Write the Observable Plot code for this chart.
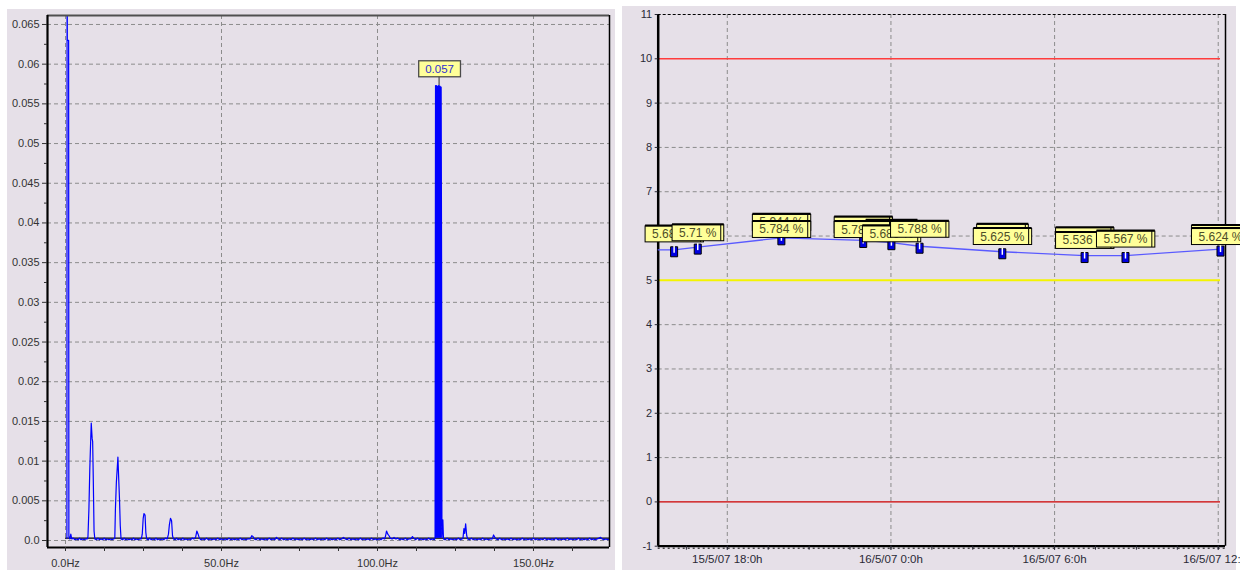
<!DOCTYPE html>
<html><head><meta charset="utf-8">
<script src="https://cdn.jsdelivr.net/npm/d3@7"></script>
<script src="https://cdn.jsdelivr.net/npm/@observablehq/plot@0.6"></script>
<style>
html,body{margin:0;padding:0;background:#fff;width:1240px;height:570px;overflow:hidden;font-family:"Liberation Sans",Arial,sans-serif;}
.panel{position:absolute;background:#e6e0e8;}
#leftBg{left:7px;top:9px;width:608px;height:561px;}
#rightBg{left:622px;top:6px;width:614px;height:564px;}
#left{position:absolute;left:7px;top:9px;}
#right{position:absolute;left:622px;top:6px;}
</style></head><body>
<div class="panel" id="leftBg"></div><div class="panel" id="rightBg"></div>
<div id="left"></div><div id="right"></div>
<script>
// ---------- Left panel: amplitude spectrum ----------
const specXDomain = [-5.77, 174.36];
const specYDomain = [-0.00088, 0.06613];
const specXTicks = [0, 50, 100, 150];
const specXMinorTicks = [12.5, 25, 37.5, 62.5, 75, 87.5, 112.5, 125, 137.5, 162.5];
const specYTicks = [0, 0.005, 0.01, 0.015, 0.02, 0.025, 0.03, 0.035, 0.04, 0.045, 0.05, 0.055, 0.06, 0.065];
const specYMinorTicks = [0.0025, 0.0075, 0.0125, 0.0175, 0.0225, 0.0275, 0.0325, 0.0375, 0.0425, 0.0475, 0.0525, 0.0575, 0.0625];
const specBaseline = 0.0003;
const specPeak = {f: 119.9, a: 0.0573};
const spectrum = [
[0.45,0.0003],[0.52,0.0900],[0.58,0.0630],[1.0,0.0630],[1.08,0.0005],[1.4,0.0002],[1.7,0.0008],[2.0,0.0002],
[2.5,0.0003],[3.0,0.0001],[3.5,0.0002],[4.0,0.0001],[4.5,0.0003],[5.0,0.0001],[5.5,0.0002],[6.0,0.0001],[6.5,0.0002],[7.0,0.0002],
[7.2,0.0005],[7.5,0.0039],[7.8,0.0092],[8.25,0.0148],[8.55,0.0128],[8.7,0.0125],[8.9,0.0078],[9.15,0.0012],[9.4,0.0002],
[9.9,0.0001],[10.4,0.0003],[10.9,0.0001],[11.4,0.0002],[11.9,0.0001],[12.4,0.0003],[12.9,0.0001],[13.4,0.0002],[13.9,0.0001],[14.4,0.0002],[14.9,0.0001],[15.4,0.0002],[15.8,0.0003],
[16.0,0.0040],[16.3,0.0073],[16.8,0.0105],[17.05,0.0078],[17.3,0.0053],[17.55,0.0019],[17.8,0.0002],
[18.3,0.0001],[18.8,0.0003],[19.3,0.0001],[19.8,0.0002],[20.3,0.0001],[20.8,0.0002],[21.3,0.0001],[21.8,0.0003],[22.3,0.0001],[22.8,0.0002],[23.3,0.0001],[23.8,0.0002],[24.3,0.0002],
[24.6,0.0008],[24.9,0.0028],[25.15,0.0034],[25.5,0.0032],[25.75,0.0010],[26.0,0.0002],
[26.5,0.0001],[27.0,0.0003],[27.5,0.0001],[28.0,0.0002],[28.5,0.0001],[29.0,0.0003],[29.5,0.0001],[30.0,0.0002],[30.5,0.0001],[31.0,0.0002],[31.5,0.0001],[32.0,0.0003],[32.6,0.0002],
[33.0,0.0008],[33.3,0.0020],[33.65,0.0028],[34.0,0.0025],[34.3,0.0006],[34.6,0.0002],
[35.1,0.0001],[35.6,0.0003],[36.1,0.0001],[36.6,0.0002],[37.1,0.0001],[37.6,0.0003],[38.1,0.0001],[38.6,0.0002],[39.1,0.0001],[39.6,0.0002],[40.1,0.0001],[40.6,0.0003],[41.2,0.0002],
[41.7,0.0004],[42.1,0.0012],[42.5,0.0008],[42.9,0.0003],
[43.4,0.0001],[44.0,0.0002],[44.6,0.0001],[45.2,0.0003],[45.8,0.0001],[46.4,0.0002],[47.0,0.0001],[47.6,0.0002],[48.2,0.0001],[48.8,0.0003],[49.4,0.0001],[50.0,0.0002],[50.6,0.0001],[51.2,0.0002],[51.8,0.0001],[52.4,0.0003],[53.0,0.0001],[53.6,0.0002],[54.2,0.0001],[54.8,0.0002],[55.4,0.0001],[56.0,0.0003],[56.6,0.0001],[57.2,0.0002],[57.8,0.0001],[58.4,0.0002],[59.2,0.0002],
[59.7,0.0006],[60.1,0.0005],[60.5,0.0002],
[61.1,0.0001],[61.7,0.0003],[62.3,0.0001],[62.9,0.0002],[63.5,0.0001],[64.1,0.0002],[64.7,0.0001],[65.3,0.0003],[65.9,0.0001],[66.5,0.0002],[67.1,0.0001],[67.6,0.0004],[68.1,0.0002],[68.7,0.0001],[69.3,0.0003],[69.9,0.0001],[70.5,0.0002],[71.1,0.0001],[71.7,0.0002],[72.3,0.0001],[72.9,0.0003],[73.5,0.0001],[74.1,0.0002],[74.7,0.0001],[75.3,0.0002],[75.9,0.0001],[76.5,0.0003],[77.1,0.0001],[77.7,0.0002],[78.3,0.0001],[78.9,0.0002],[79.5,0.0001],[80.1,0.0003],[80.7,0.0001],[81.3,0.0002],[81.9,0.0001],[82.5,0.0002],[83.1,0.0001],[83.7,0.0003],[84.3,0.0001],[84.9,0.0002],[85.5,0.0001],[86.1,0.0002],[86.7,0.0001],[87.3,0.0003],[87.9,0.0001],[88.5,0.0002],[89.1,0.0004],[89.7,0.0002],[90.3,0.0001],[90.9,0.0003],[91.5,0.0001],[92.1,0.0002],[92.7,0.0001],[93.3,0.0002],[93.9,0.0001],[94.5,0.0003],[95.1,0.0001],[95.7,0.0002],[96.3,0.0001],[96.9,0.0002],[97.5,0.0001],[98.1,0.0003],[98.7,0.0001],[99.3,0.0002],[99.9,0.0001],[100.5,0.0002],[101.1,0.0001],[101.7,0.0003],[102.3,0.0002],
[102.6,0.0006],[102.9,0.0012],[103.3,0.0008],[103.7,0.0006],[104.1,0.0003],
[104.7,0.0002],[105.3,0.0004],[105.9,0.0002],[106.5,0.0003],[107.1,0.0001],[107.7,0.0002],[108.3,0.0001],[108.9,0.0003],[109.5,0.0001],[110.1,0.0002],[110.7,0.0002],
[111.2,0.0005],[111.6,0.0003],
[112.2,0.0001],[112.8,0.0003],[113.4,0.0001],[114.0,0.0002],[114.6,0.0001],[115.2,0.0002],[115.8,0.0001],[116.4,0.0003],[117.0,0.0001],[117.6,0.0002],[118.2,0.0001],[118.45,0.0003],
[118.6,0.0573],[118.75,0.0004],[118.9,0.0573],[119.05,0.0004],[119.2,0.0572],[119.35,0.0004],[119.5,0.0573],[119.65,0.0004],[119.8,0.0573],[119.95,0.0004],[120.1,0.0572],[120.25,0.0004],[120.4,0.0571],[120.55,0.0325],[120.65,0.0004],[120.95,0.0026],[121.15,0.0002],
[121.7,0.0001],[122.3,0.0003],[122.9,0.0001],[123.5,0.0002],[124.1,0.0001],[124.7,0.0002],[125.3,0.0001],[125.9,0.0003],[126.5,0.0001],[127.1,0.0002],[127.4,0.0003],
[127.7,0.0015],[127.95,0.0009],[128.25,0.0021],[128.6,0.0006],[128.9,0.0002],
[129.5,0.0001],[130.1,0.0003],[130.7,0.0001],[131.3,0.0002],[131.9,0.0001],[132.5,0.0002],[133.1,0.0001],[133.7,0.0003],[134.3,0.0001],[134.9,0.0002],[135.5,0.0001],[136.1,0.0002],[136.8,0.0002],
[137.2,0.0007],[137.6,0.0004],[138.0,0.0002],
[138.6,0.0001],[139.2,0.0003],[139.8,0.0001],[140.4,0.0002],[141.0,0.0001],[141.6,0.0002],[142.2,0.0001],[142.8,0.0003],[143.4,0.0001],[144.0,0.0002],[144.6,0.0001],[145.2,0.0002],[145.8,0.0001],[146.4,0.0003],[147.0,0.0001],[147.6,0.0002],[148.2,0.0001],[148.8,0.0002],[149.4,0.0001],[150.0,0.0003],[150.6,0.0001],[151.2,0.0002],[151.8,0.0001],[152.4,0.0002],[153.0,0.0001],[153.6,0.0003],[154.2,0.0001],[154.8,0.0002],[155.4,0.0001],[156.0,0.0002],[156.6,0.0001],[157.2,0.0003],[157.8,0.0001],[158.4,0.0002],[159.0,0.0001],[159.6,0.0002],[160.2,0.0001],[160.8,0.0003],[161.4,0.0001],[162.0,0.0002],[162.6,0.0001],[163.2,0.0002],[163.8,0.0001],[164.4,0.0003],[165.0,0.0001],[165.6,0.0002],[166.2,0.0001],[166.8,0.0002],[167.4,0.0001],[168.0,0.0003],[168.6,0.0001],[169.2,0.0002],[169.8,0.0001],[170.4,0.0002],[171.0,0.0003],[171.5,0.0004],[172.0,0.0002],[172.6,0.0001],[173.2,0.0002],[173.8,0.0001],[174.4,0.0002]
];

// ---------- Right panel: trend ----------
const D = (day, h, m) => new Date(2007, 4, day, h, m);
const trendXDomain = [D(15, 15, 28), D(16, 12, 16)];
const trendYDomain = [-1, 11];
const trendYTicks = [-1, 0, 1, 2, 3, 4, 5, 6, 7, 8, 9, 10, 11];
const trendGrid = [1, 2, 3, 4, 6, 7, 8, 9];
const trendXTicks = [D(15, 18, 0), D(16, 0, 0), D(16, 6, 0), D(16, 12, 0)];
const trendXMinor = [D(15,16,30), D(15,18,0), D(15,19,30), D(15,21,0), D(15,22,30), D(16,0,0), D(16,1,30), D(16,3,0), D(16,4,30), D(16,6,0), D(16,7,30), D(16,9,0), D(16,10,30), D(16,12,0)];
const limitHigh = 10, limitWarn = 5, limitLow = 0;
const trendTimes = [D(15,15,28), D(15,16,3), D(15,16,55), D(15,19,59), D(15,22,59), D(16,0,1), D(16,1,3), D(16,4,5), D(16,7,6), D(16,8,36), D(16,12,5)];
const trendValues = [5.69, 5.69, 5.75, 5.96, 5.90, 5.85, 5.77, 5.645, 5.56, 5.56, 5.706];
const labelValues = [5.684, 5.71, 5.784, 5.782, 5.686, 5.788, 5.625, 5.536, 5.567, 5.624];
const backLabelTimes = [D(15,19,59), D(15,22,59), D(16,0,1), D(16,4,5), D(16,7,6), D(16,12,5)];
const backLabelValues = [5.944, 5.887, 5.81, 5.72, 5.643, 5.695];

const trend = trendTimes.map((t, i) => ({t, v: trendValues[i]}));
const markers = trend.slice(1);
const frontLabels = markers.map((d, i) => ({t: d.t, v: labelValues[i]}));
const backLabels = backLabelTimes.map((t, i) => ({t, v: backLabelValues[i]}));
const lastTime = trendTimes[trendTimes.length - 1];

const FONT = "'Liberation Sans', Arial, sans-serif";
const svgStyle = `background:none;overflow:visible;font-family:${FONT};font-size:11px;`;
const gridStyle = {stroke: "#8c8c8c", strokeDasharray: "4,3", strokeWidth: 1};

const fmtHz = d => d.toFixed(1) + "Hz";
const fmtAmp = d => d === 0 ? "0.0" : String(d);
const fmtTime = d => `${d.getDate()}/${d.getMonth() + 1}/${String(d.getFullYear()).slice(2)} ${d.getHours()}:${d.getMinutes()}h`;

const leftChart = Plot.plot({
  width: 608, height: 561,
  marginLeft: 40, marginRight: 6, marginTop: 6, marginBottom: 23,
  style: svgStyle,
  x: {type: "linear", domain: specXDomain},
  y: {type: "linear", domain: specYDomain},
  marks: [
    Plot.ruleY(specYTicks, gridStyle),
    Plot.ruleX(specXTicks, gridStyle),
    Plot.ruleY([specBaseline], {x1: () => 0, x2: () => specXDomain[1], stroke: "#000", strokeWidth: 1.3}),
    Plot.line(spectrum, {x: d => d[0], y: d => d[1], stroke: "#0000ff", strokeWidth: 1.2, clip: true}),
    Plot.ruleY([specYDomain[1]], {stroke: "#505050", strokeWidth: 2}),
    Plot.ruleX([specXDomain[1]], {stroke: "#000", strokeWidth: 1.5}),
    Plot.ruleX([specXDomain[0]], {stroke: "#000", strokeWidth: 2.2}),
    Plot.ruleY([specYDomain[0]], {stroke: "#000", strokeWidth: 2.2}),
    Plot.axisY(specYTicks, {tickSize: 5, tickPadding: 3, tickFormat: fmtAmp, label: null, color: "#333"}),
    Plot.axisY(specYMinorTicks, {tickSize: 3, tickFormat: () => "", label: null, color: "#333"}),
    Plot.axisX(specXTicks, {tickSize: 4, tickPadding: 8, tickFormat: fmtHz, label: null, color: "#333"}),
    Plot.axisX(specXMinorTicks, {tickSize: 4, tickFormat: () => "", label: null, color: "#333"}),
    Plot.text([specPeak], {x: "f", y: "a", text: d => d3.format(".3f")(d.a), dy: -16.5, lineAnchor: "middle", fill: "#3030d0", fontSize: 11.5})
  ]
});

const markerBox = {draw(ctx) { ctx.moveTo(-3.5, -3); ctx.lineTo(3.5, -3); ctx.lineTo(3.5, 7); ctx.lineTo(-3.5, 7); ctx.closePath(); }};
const markerSlot = {draw(ctx) { ctx.moveTo(0, -4); ctx.lineTo(0, 3); }};

const rightChart = Plot.plot({
  width: 618, height: 564,
  marginLeft: 35.7, marginRight: 15, marginTop: 8, marginBottom: 24.3,
  style: svgStyle,
  x: {type: "time", domain: trendXDomain},
  y: {type: "linear", domain: trendYDomain},
  marks: [
    Plot.ruleY(trendGrid, gridStyle),
    Plot.ruleX(trendXTicks, gridStyle),
    Plot.ruleY([limitHigh], {x1: () => trendXDomain[0], x2: () => lastTime, stroke: "#ff3c3c", strokeWidth: 1.5}),
    Plot.ruleY([limitWarn], {x1: () => trendXDomain[0], x2: () => lastTime, stroke: "#f4f400", strokeWidth: 2}),
    Plot.ruleY([limitLow], {x1: () => trendXDomain[0], x2: () => lastTime, stroke: "#cc0000", strokeWidth: 1.3}),
    Plot.ruleY([trendYDomain[1]], {stroke: "#000", strokeDasharray: "3,2", strokeWidth: 1}),
    Plot.ruleX([trendXDomain[1]], {stroke: "#000", strokeWidth: 1.5}),
    Plot.ruleX([trendXDomain[0]], {stroke: "#000", strokeWidth: 2.5}),
    Plot.ruleY([trendYDomain[0]], {stroke: "#000", strokeWidth: 2.2}),
    Plot.ruleY([trendYDomain[0]], {stroke: "#000", strokeWidth: 1, strokeDasharray: "2,3", dy: 2}),
    Plot.axisY(trendYTicks, {tickSize: 3, tickPadding: 3, tickFormat: d => String(d), label: null, color: "#2a2a36"}),
    Plot.axisX(trendXTicks, {tickSize: 4, tickPadding: 5, tickFormat: fmtTime, label: null, color: "#2a2a36", fontSize: 11.5}),
    Plot.axisX(trendXMinor, {tickSize: 4, tickFormat: () => "", label: null, color: "#2a2a36"}),
    Plot.line(trend, {x: "t", y: "v", stroke: "#5a5aff", strokeWidth: 1.3}),
    Plot.dot(markers, {x: "t", y: "v", symbol: markerBox, fill: "#0000e0", stroke: "#000", strokeWidth: 1}),
    Plot.dot(markers, {x: "t", y: "v", symbol: markerSlot, fill: "none", stroke: "#fff", strokeWidth: 1.5}),
    Plot.text(backLabels, {x: "t", y: "v", text: d => `${d.v} %`, dy: -16, lineAnchor: "middle", fill: "#4d4d28", fontSize: 12}),
    Plot.text(frontLabels, {x: "t", y: "v", text: d => `${d.v} %`, dy: -16, lineAnchor: "middle", fill: "#4d4d28", fontSize: 12})
  ]
});

document.getElementById("left").appendChild(leftChart);
document.getElementById("right").appendChild(rightChart);

const NS = "http://www.w3.org/2000/svg";
function drawLabelBoxes(svg, o) {
  svg.querySelectorAll('g[aria-label="text"]').forEach(g => {
    g.querySelectorAll("text").forEach(t => {
      const bb = t.getBBox();
      const tr = t.getAttribute("transform");
      const parent = t.parentNode;
      const add = (tag, attrs) => {
        const e = document.createElementNS(NS, tag);
        for (const k in attrs) e.setAttribute(k, attrs[k]);
        if (tr) e.setAttribute("transform", tr);
        parent.insertBefore(e, t);
        return e;
      };
      const x0 = bb.x - o.padX, y0 = bb.y - o.padY, w = bb.width + 2 * o.padX, h = bb.height + 2 * o.padY;
      add("rect", {x: x0, y: y0, width: w, height: h, fill: o.fill, stroke: o.stroke, "stroke-width": o.strokeWidth});
      if (o.heavyTop) add("line", {x1: x0, x2: x0 + w, y1: y0 - 0.5, y2: y0 - 0.5, stroke: "#000", "stroke-width": 2});
      if (o.innerRight) add("line", {x1: x0 + w - 3, x2: x0 + w - 3, y1: y0, y2: y0 + h, stroke: "#000", "stroke-width": 1});
    });
  });
}
drawLabelBoxes(leftChart, {padX: 6.5, padY: 2, fill: "#ffff99", stroke: "#4a4a4a", strokeWidth: 1.3});
drawLabelBoxes(rightChart, {padX: 7, padY: 1, fill: "#ffff99", stroke: "#000", strokeWidth: 1, heavyTop: true, innerRight: true});

// connector from the peak label to the peak
{
  const rect = leftChart.querySelector('g[aria-label="text"] rect');
  const rb = rect.getBoundingClientRect(), sb = leftChart.getBoundingClientRect();
  const xs = leftChart.scale("x"), ys = leftChart.scale("y");
  const ln = document.createElementNS(NS, "line");
  const cx = xs.apply(specPeak.f);
  ln.setAttribute("x1", cx); ln.setAttribute("x2", cx);
  ln.setAttribute("y1", rb.bottom - sb.top); ln.setAttribute("y2", ys.apply(specPeak.a));
  ln.setAttribute("stroke", "#4a4a4a"); ln.setAttribute("stroke-width", 1.2);
  leftChart.appendChild(ln);
}
</script></body></html>
